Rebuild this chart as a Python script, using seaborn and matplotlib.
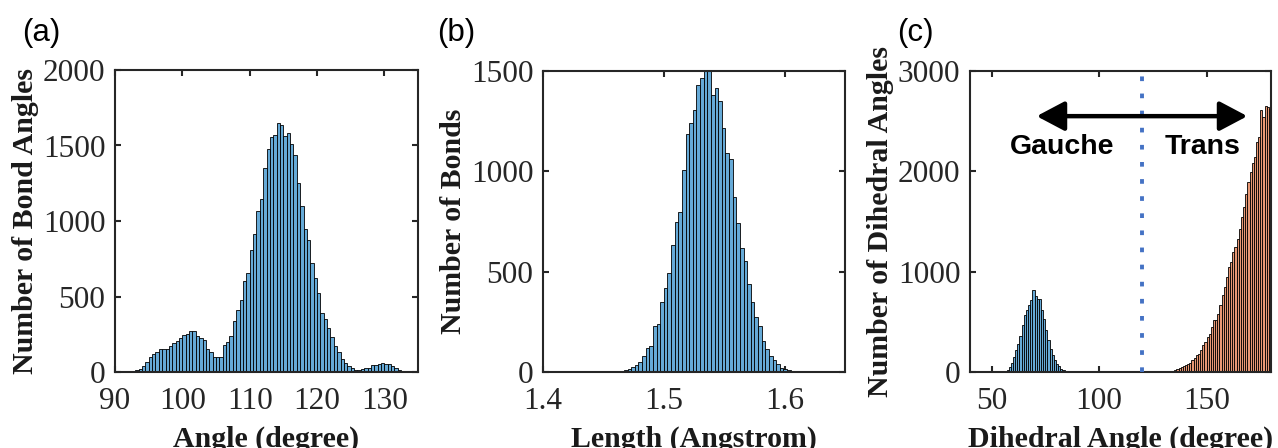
import numpy as np
import pandas as pd
import matplotlib
matplotlib.use("Agg")
import matplotlib.pyplot as plt
import seaborn as sns

# ---- data (histogram counts per bin) ----
# (a) bond angles, 0.5 degree bins starting at 92.5
angle_start, angle_width = 92.5, 0.5
angle_counts = [7, 15, 22, 38, 66, 99, 117, 130, 155, 155,
                155, 170, 192, 203, 225, 243, 249, 272, 269, 236,
                227, 210, 155, 132, 99, 99, 99, 177, 199, 238,
                338, 408, 475, 603, 656, 811, 913, 1067, 1143, 1348,
                1476, 1558, 1569, 1646, 1635, 1562, 1585, 1509, 1436, 1253,
                1100, 950, 873, 725, 620, 526, 391, 350, 290, 230,
                175, 133, 88, 60, 40, 25, 14, 10, 18, 24,
                26, 44, 44, 50, 60, 55, 53, 37, 24, 15, 7]

# (b) bond lengths, 0.003 Angstrom bins starting at 1.455
length_start, length_width = 1.455, 0.003
length_counts = [2, 2, 3, 5, 10, 17, 25, 33, 50, 80,
                 122, 130, 230, 238, 350, 417, 493, 633, 747, 797,
                 1005, 1188, 1243, 1308, 1430, 1467, 1505, 1515, 1380, 1417,
                 1350, 1217, 1093, 1060, 872, 742, 617, 552, 438, 350,
                 272, 230, 155, 117, 80, 58, 38, 22, 13, 8, 5]

# (c) dihedral angles, 1 degree bins
gauche_start = 56
gauche_counts = [10, 23, 50, 90, 150, 216, 283, 356, 466, 565,
                 622, 665, 715, 821, 755, 732, 732, 615, 532, 416,
                 323, 233, 166, 116, 83, 57, 33, 17, 10]
trans_start = 131
trans_counts = [3, 5, 8, 10, 17, 33, 43, 50, 57, 67,
                76, 90, 116, 143, 166, 183, 216, 266, 299, 349,
                382, 449, 515, 522, 582, 665, 765, 848, 948, 1048,
                1097, 1197, 1247, 1330, 1430, 1546, 1646, 1779, 1895, 1995,
                2085, 2145, 2295, 2345, 2611, 2545, 2651, 2637, 2620]
dihedral_width = 1.0
gauche_trans_split = 120

panel_letters = ["(a)", "(b)", "(c)"]
x_labels = ["Angle (degree)", "Length (Angstrom)", "Dihedral Angle (degree)"]
y_labels = ["Number of Bond Angles", "Number of Bonds", "Number of Dihedral Angles"]


def hist_frame(start, width, counts):
    edges = start + width * np.arange(len(counts) + 1)
    df = pd.DataFrame({"x": edges[:-1] + width / 2, "n": counts})
    return df, [float(v) for v in edges]


sns.set_style("ticks")
plt.rcParams["font.family"] = ["Liberation Serif", "DejaVu Serif"]
plt.rcParams["axes.edgecolor"] = "#262626"
plt.rcParams["xtick.color"] = "#262626"
plt.rcParams["ytick.color"] = "#262626"
plt.rcParams["axes.labelcolor"] = "#1a1a1a"

blue = "#66aad7"
orange = "#e89875"

fig = plt.figure(figsize=(12.78, 4.48), dpi=100)
W, H = 1278, 448
boxes = [(115, 418, 70, 372), (543, 845, 71, 372), (970, 1271, 71, 372)]
axes = [fig.add_axes([l / W, 1 - b / H, (r - l) / W, (b - t) / H]) for l, r, t, b in boxes]

hist_kw = dict(x="x", weights="n", edgecolor="black", linewidth=0.6, alpha=1, stat="count")

ax = axes[0]
df, e = hist_frame(angle_start, angle_width, angle_counts)
sns.histplot(data=df, bins=e, color=blue, ax=ax, **hist_kw)
ax.set_xlim(90, 135)
ax.set_ylim(0, 2000)
ax.set_xticks([90, 100, 110, 120, 130])
ax.set_yticks([0, 500, 1000, 1500, 2000])

ax = axes[1]
df, e = hist_frame(length_start, length_width, length_counts)
sns.histplot(data=df, bins=e, color=blue, ax=ax, **hist_kw)
ax.set_xlim(1.4, 1.65)
ax.set_ylim(0, 1500)
ax.set_xticks([1.4, 1.5, 1.6])
ax.set_xticklabels(["1.4", "1.5", "1.6"])
ax.set_yticks([0, 500, 1000, 1500])

ax = axes[2]
df, e = hist_frame(gauche_start, dihedral_width, gauche_counts)
sns.histplot(data=df, bins=e, color=blue, ax=ax, **hist_kw)
df, e = hist_frame(trans_start, dihedral_width, trans_counts)
sns.histplot(data=df, bins=e, color=orange, ax=ax, **hist_kw)
ax.set_xlim(40, 180)
ax.set_ylim(0, 3000)
ax.set_xticks([50, 100, 150])
ax.set_yticks([0, 1000, 2000, 3000])
ax.axvline(gauche_trans_split, color="#4472c4", lw=2.8, linestyle=(0, (1.2, 3.2)),
           dash_capstyle="butt", zorder=5)
ax.annotate("", xy=(71, 2550), xytext=(169, 2550),
            arrowprops=dict(arrowstyle="<|-|>,head_length=0.85,head_width=0.45",
                            color="black", lw=3.2, mutation_scale=20,
                            shrinkA=0, shrinkB=0), zorder=6)
ax.text(83, 2240, "Gauche", ha="center", va="center", fontsize=20.5,
        fontweight="bold", color="black", family=["Liberation Sans", "DejaVu Sans"])
ax.text(148, 2240, "Trans", ha="center", va="center", fontsize=20.5,
        fontweight="bold", color="black", family=["Liberation Sans", "DejaVu Sans"])

label_x = [22, 437, 897]
for ax, letter, xl, yl, lx in zip(axes, panel_letters, x_labels, y_labels, label_x):
    for side in ["top", "right", "left", "bottom"]:
        ax.spines[side].set_visible(True)
        ax.spines[side].set_linewidth(1.5)
    ax.tick_params(direction="in", top=True, right=True, length=4, width=1.5,
                   labelsize=22.5)
    ax.tick_params(axis="x", pad=11)
    ax.tick_params(axis="y", pad=7)
    ax.set_xlabel(xl, fontsize=21.5, fontweight="bold", labelpad=7)
    ax.set_ylabel(yl, fontsize=21.5, fontweight="bold", labelpad=3)
    fig.text(lx / W, 1 - 33 / H, letter, fontsize=22.5, ha="left", va="center",
             color="black", family=["Liberation Sans", "DejaVu Sans"])

fig.savefig("out.png", dpi=100)
